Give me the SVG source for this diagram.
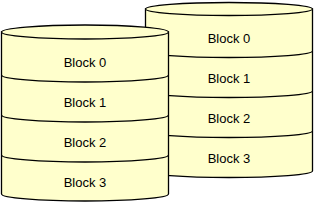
<svg xmlns="http://www.w3.org/2000/svg" width="314" height="202" viewBox="0 0 314 202">
<style>
.body{fill:#FFFFCC;stroke:#000;stroke-width:1.3}
.line{fill:none;stroke:#000;stroke-width:1.3}
.lbl{font-family:"Liberation Sans",Arial,sans-serif;font-size:13px;fill:#000;text-anchor:middle}
</style>
<rect width="314" height="202" fill="#fff"/>
<g id="disk-right">
<path class="body" d="M145.5,9 V171 A83.5,6.5 0 0 0 312.5,171 V9 Z"/>
<ellipse class="body" cx="229" cy="9" rx="83.5" ry="6.5"/>
<path class="line" d="M145.5,51 A83.5,6.5 0 0 0 312.5,51 M145.5,91 A83.5,6.5 0 0 0 312.5,91 M145.5,131 A83.5,6.5 0 0 0 312.5,131"/>
<text class="lbl" x="229" y="43">Block 0</text>
<text class="lbl" x="229" y="83">Block 1</text>
<text class="lbl" x="229" y="123">Block 2</text>
<text class="lbl" x="229" y="163">Block 3</text>
</g>
<g id="disk-left">
<path class="body" d="M1.5,32 V194 A83.5,7 0 0 0 168.5,194 V32 Z"/>
<ellipse class="body" cx="85" cy="32" rx="83.5" ry="7"/>
<path class="line" d="M1.5,75 A83.5,7 0 0 0 168.5,75 M1.5,115 A83.5,7 0 0 0 168.5,115 M1.5,155 A83.5,7 0 0 0 168.5,155"/>
<text class="lbl" x="85" y="67">Block 0</text>
<text class="lbl" x="85" y="107">Block 1</text>
<text class="lbl" x="85" y="147">Block 2</text>
<text class="lbl" x="85" y="187">Block 3</text>
</g>
</svg>
